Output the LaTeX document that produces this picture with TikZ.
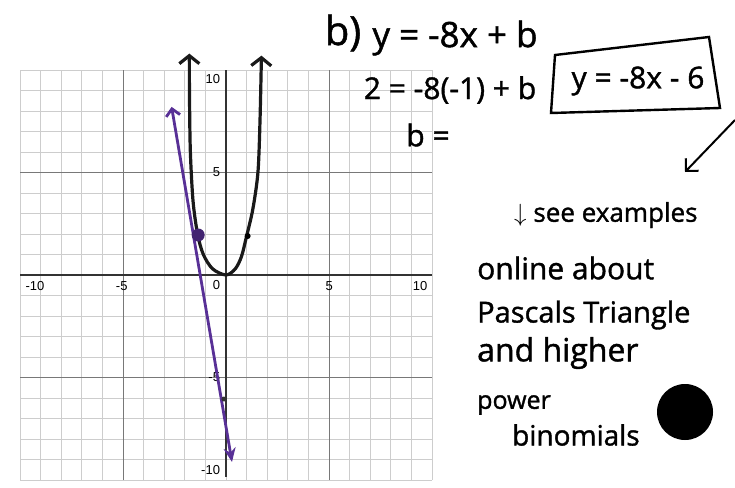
\documentclass[tikz,border=0pt]{standalone}
\usepackage{fontspec}
\usepackage{tikz}
\usetikzlibrary{arrows.meta,positioning}
\newfontfamily\handfont[FakeBold=1.3]{Open Sans}
\newfontfamily\tickfont{Liberation Sans}
\definecolor{penpurple}{RGB}{88,48,150}
\definecolor{gridlight}{RGB}{205,205,205}
\definecolor{gridmajor}{RGB}{120,120,120}
\tikzset{
  hand/.style={font=\handfont\fontsize{30}{32}\selectfont, inner sep=0pt},
  note/.style={font=\handfont\fontsize{28}{30}\selectfont, inner sep=0pt, anchor=west},
  tick/.style={font=\tickfont\fontsize{13}{13}\selectfont, inner sep=0pt},
}

\begin{document}
\begin{tikzpicture}[x=1pt,y=-1pt]
  \useasboundingbox (0,0) rectangle (735,487);
  % graph paper
  \begin{scope}[shift={(226,275)},x=20.6pt,y=20.5pt]
    \foreach \k in {-10,...,10} {
      \draw[gridlight,line width=0.9pt] (\k,-10) -- (\k,10);
      \draw[gridlight,line width=0.9pt] (-10,\k) -- (10,\k);
    }
    \foreach \k in {-5,5} {
      \draw[gridmajor,line width=1pt] (\k,-10) -- (\k,10);
      \draw[gridmajor,line width=1pt] (-10,\k) -- (10,\k);
    }
    \draw[black!80,line width=1.4pt] (-10,0) -- (10,0);
    \draw[black!80,line width=1.4pt] (0,-9.85) -- (0,10);
    % tick labels
    \node[tick,anchor=east] (y10) at (-0.28,9.55) {10};
    \node[tick,anchor=east] (y5) at (-0.28,5) {5};
    \node[tick,anchor=east] (y0) at (-0.28,-0.5) {0};
    \node[tick,anchor=east] (ym5) at (-0.28,-5) {-5};
    \node[tick,anchor=east] (ym10) at (-0.28,-9.5) {-10};
    \node[tick] (xm10) at (-9.27,-0.55) {-10};
    \node[tick] (xm5) at (-5.06,-0.55) {-5};
    \node[tick] (x5) at (5.01,-0.55) {5};
    \node[tick] (x10) at (9.42,-0.55) {10};
    % y = 2x^2 by hand
    \draw[black!90,line width=3.2pt,
      {Straight Barb[length=8pt,width=20pt]}-{Straight Barb[length=8pt,width=20pt]}]
      plot[smooth] coordinates {(-1.78,10.8) (-1.77,8.5) (-1.73,6) (-1.6,3.6)
        (-1.38,2.0) (-1.1,1.0) (-0.65,0.3) (0,0) (0.45,0.3) (0.75,0.9)
        (1.0,1.9) (1.3,3.2) (1.55,5) (1.65,7.5) (1.72,10.7)};
    \node[circle,fill=black,minimum size=6pt,inner sep=0pt] (q) at (1.05,1.9) {};
    % tangent line y = -8x - 6
    \coordinate (ltop) at (-2.64,8.2);
    \coordinate (lbot) at (0.29,-9.12);
    \draw[penpurple,line width=2.8pt,
      {Straight Barb[length=7pt,width=14pt]}-{Stealth[length=14pt,width=12pt]}]
      (ltop) -- (lbot);
    \node[circle,fill=penpurple!75!black,minimum size=13pt,inner sep=0pt] (p) at (-1.35,1.95) {};
    \node[circle,fill=black!80,minimum size=5pt,inner sep=0pt] (c) at (-0.1,-6.05) {};
  \end{scope}
  % working
  \node[hand,font=\handfont\fontsize{40}{42}\selectfont] (part) at (343,33) {b)};
  \node[hand,font=\handfont\fontsize{35}{37}\selectfont] (eqa) at (455,38) {y = -8x + b};
  \node[hand] (eqb) at (450,90) {2 = -8(-1) + b};
  \node[hand] (eqc) at (428,135) {b =};
  \node[hand] (ans) at (638,81) {y = -8x - 6};
  \draw[line width=2.4pt] (555,55) -- (709,37) -- (720,108) -- (551,113) -- cycle;
  % note
  \coordinate (tail) at (735,120);
  \coordinate (head) at (685,172);
  \draw[line width=2pt,-{Straight Barb[length=9pt,width=18pt]}] (tail) -- (head);
  \node[note,font=\handfont\fontsize{26}{28}\selectfont] (n1) at (514,215) {$\downarrow$ see examples};
  \node[note,font=\handfont\fontsize{30}{32}\selectfont] (n2) at (477,268) {online about};
  \node[note,font=\handfont\fontsize{29}{31}\selectfont] (n3) at (477,315) {Pascals Triangle};
  \node[note,font=\handfont\fontsize{32}{34}\selectfont] (n4) at (477,353) {and higher};
  \node[note,font=\handfont\fontsize{25}{27}\selectfont] (n5) at (477,405) {power};
  \node[note] (n6) at (512,435) {binomials};
  \node[circle,fill=black,minimum size=56pt,inner sep=0pt] (blob) at (685,412) {};
\end{tikzpicture}
\end{document}
